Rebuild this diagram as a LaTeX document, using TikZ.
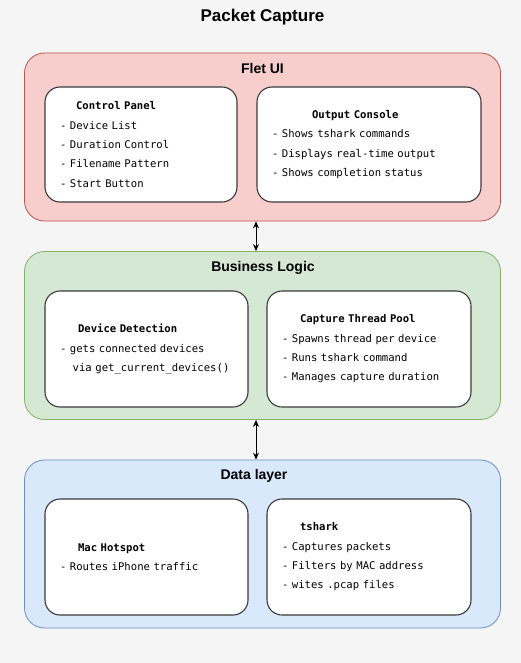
\documentclass[tikz,border=0pt]{standalone}
\usepackage{fontspec}
\setmainfont{Liberation Sans}
\setmonofont{DejaVu Sans Mono}
\usetikzlibrary{arrows.meta}
\definecolor{bgcol}{HTML}{F5F5F5}
\definecolor{uifill}{HTML}{F8CECC}
\definecolor{uiline}{HTML}{B85450}
\definecolor{logicfill}{HTML}{D5E8D4}
\definecolor{logicline}{HTML}{82B366}
\definecolor{datafill}{HTML}{DAE8FC}
\definecolor{dataline}{HTML}{6C8EBF}
\definecolor{boxline}{HTML}{3A3A3A}
\begin{document}
\begin{tikzpicture}[x=1pt,y=-1pt,
  layer/.style={draw=#1line,fill=#1fill,line width=0.8pt,rounded corners=20pt,
    minimum width=476pt,minimum height=168pt},
  layertitle/.style={font=\fontsize{14}{16}\selectfont\bfseries},
  part/.style={draw=boxline,fill=white,line width=1.1pt,rounded corners=15pt,
    minimum width=#1,text width=#1-30pt,inner xsep=15pt,inner ysep=2pt,
    minimum height=116pt,align=left,font=\fontsize{10.6}{19.3}\selectfont\ttfamily},
  link/.style={{Stealth[length=7pt,width=6pt]}-{Stealth[length=7pt,width=6pt]},line width=0.9pt}]
\pgfmathsetmacro{\xl}{146.5}
\pgfmathsetmacro{\xr}{369}
\pgfmathsetmacro{\ind}{18}
  \fill[bgcol] (0,0) rectangle (521,663);
  \node[font=\fontsize{17}{20}\selectfont\bfseries] (title) at (262.5,17) {Packet Capture};
  % layers
  \node[layer=ui] (ui) at (262.5,137) {};
  \node[layer=logic] (logic) at (262.5,335.5) {};
  \node[layer=data] (data) at (262.5,544) {};
  \node[layertitle] (uititle) at (262.5,68.5) {Flet UI};
  \node[layertitle] (logictitle) at (263,267.5) {Business Logic};
  \node[layertitle] (datatitle) at (254,475.5) {Data layer};
  % Flet UI
  \node[part=192pt,minimum height=115pt] (panel) at (141,144.5) {\hspace*{16pt}\textbf{Control Panel}\\
    - Device List\\
    - Duration Control\\
    - Filename Pattern\\
    - Start Button};
  \node[part=224pt,minimum height=115pt] (console) at (369,144.5) {\hspace*{40pt}\textbf{Output Console}\\
    - Shows tshark commands\\
    - Displays real-time output\\
    - Shows completion status};
  % Business Logic
  \node[part=203pt] (detect) at (\xl,349) {\hspace*{\ind pt}\textbf{Device Detection}\\
    - gets connected devices\\
    \hspace*{12.7pt}via get\_current\_devices()};
  \node[part=204pt] (pool) at (\xr,349) {\hspace*{\ind pt}\textbf{Capture Thread Pool}\\
    - Spawns thread per device\\
    - Runs tshark command\\
    - Manages capture duration};
  % Data layer
  \node[part=203pt] (hotspot) at (\xl,557) {\hspace*{\ind pt}\textbf{Mac Hotspot}\\
    - Routes iPhone traffic};
  \node[part=204pt] (tshark) at (\xr,557) {\hspace*{\ind pt}\textbf{tshark}\\
    - Captures packets\\
    - Filters by MAC address\\
    - wites .pcap files};
  % links
  \draw[link] ([xshift=-6.5pt]ui.south) -- ([xshift=-6.5pt]logic.north);
  \draw[link] ([xshift=-6.5pt]logic.south) -- ([xshift=-6.5pt]data.north);
\end{tikzpicture}
\end{document}
